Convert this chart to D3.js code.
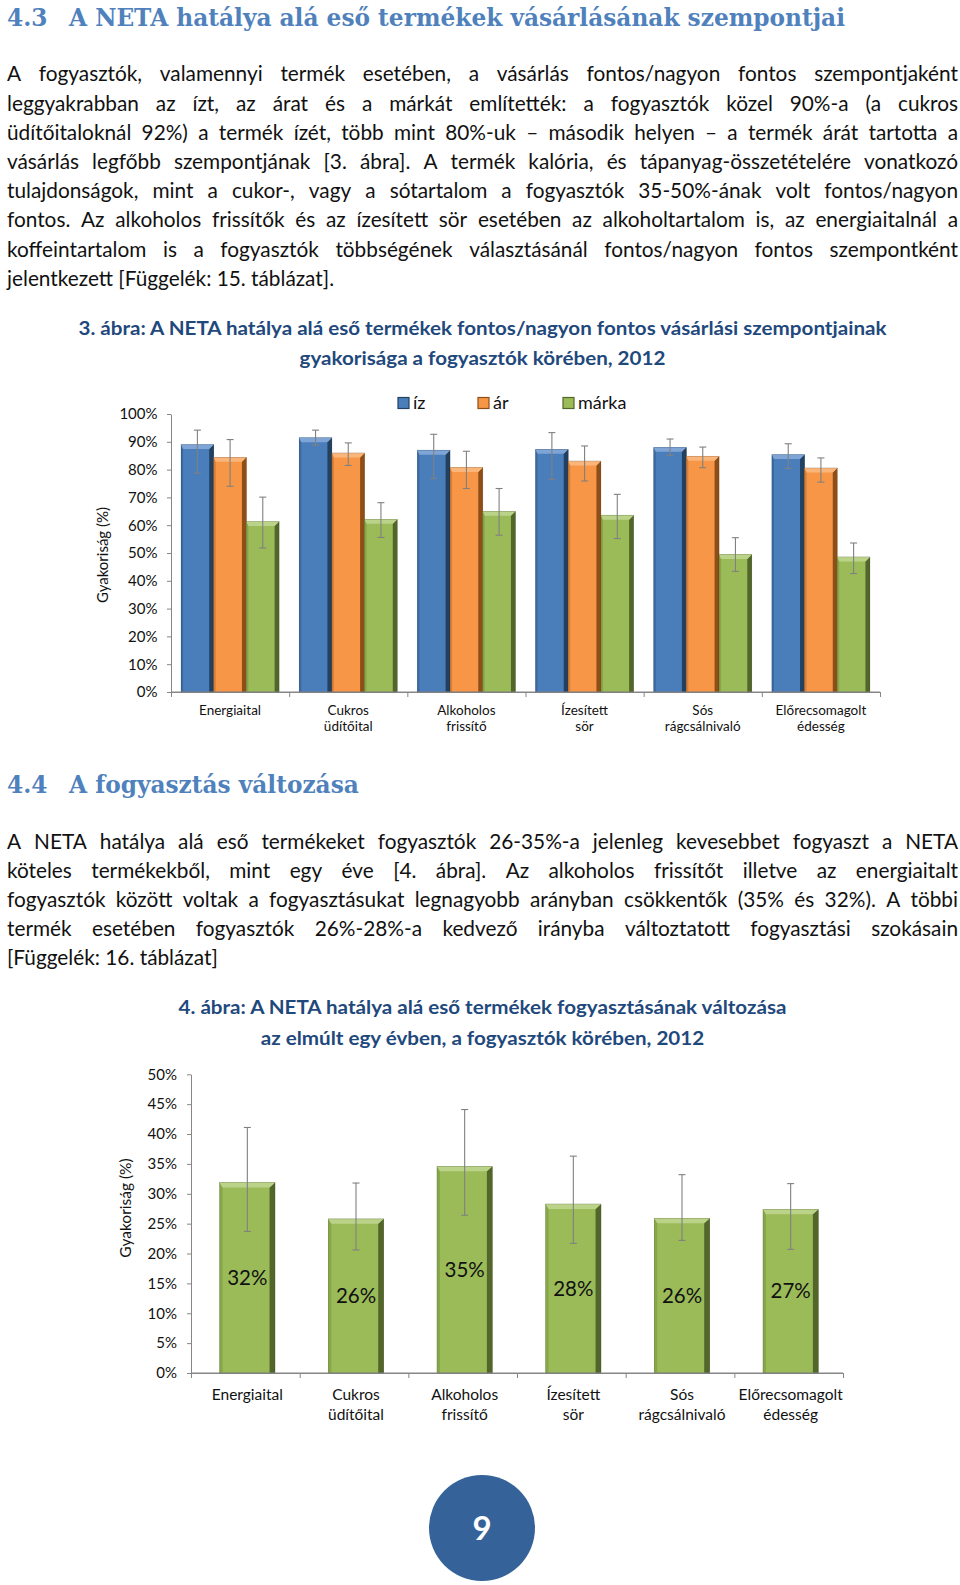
<!DOCTYPE html>
<html><head><meta charset="utf-8">
<script src="https://cdn.jsdelivr.net/npm/d3@7"></script>
<style>body{margin:0;background:#fff}svg{display:block}</style>
</head><body>
<svg id="page" width="960" height="1585"></svg>
<script>
// ---------------- DATA ----------------
const heading1 = ["4.3", "A NETA hatálya alá eső termékek vásárlásának szempontjai"];
const heading2 = ["4.4", "A fogyasztás változása"];
const para1 = [
  "A fogyasztók, valamennyi termék esetében, a vásárlás fontos/nagyon fontos szempontjaként",
  "leggyakrabban az ízt, az árat és a márkát említették: a fogyasztók közel 90%-a (a cukros",
  "üdítőitaloknál 92%) a termék ízét, több mint 80%-uk – második helyen – a termék árát tartotta a",
  "vásárlás legfőbb szempontjának [3. ábra]. A termék kalória, és tápanyag-összetételére vonatkozó",
  "tulajdonságok, mint a cukor-, vagy a sótartalom a fogyasztók 35-50%-ának volt fontos/nagyon",
  "fontos. Az alkoholos frissítők és az ízesített sör esetében az alkoholtartalom is, az energiaitalnál a",
  "koffeintartalom is a fogyasztók többségének választásánál fontos/nagyon fontos szempontként",
  "jelentkezett [Függelék: 15. táblázat]."
];
const para2 = [
  "A NETA hatálya alá eső termékeket fogyasztók 26-35%-a jelenleg kevesebbet fogyaszt a NETA",
  "köteles termékekből, mint egy éve [4. ábra]. Az alkoholos frissítőt illetve az energiaitalt",
  "fogyasztók között voltak a fogyasztásukat legnagyobb arányban csökkentők (35% és 32%). A többi",
  "termék esetében fogyasztók 26%-28%-a kedvező irányba változtatott fogyasztási szokásain",
  "[Függelék: 16. táblázat]"
];
const caption1 = ["3. ábra: A NETA hatálya alá eső termékek fontos/nagyon fontos vásárlási szempontjainak",
                  "gyakorisága a fogyasztók körében, 2012"];
const caption2 = ["4. ábra: A NETA hatálya alá eső termékek fogyasztásának változása",
                  "az elmúlt egy évben, a fogyasztók körében, 2012"];
const pageNumber = "9";
const yTitle = "Gyakoriság (%)";

const categories = [["Energiaital"], ["Cukros", "üdítőital"], ["Alkoholos", "frissítő"],
                    ["Ízesített", "sör"], ["Sós", "rágcsálnivaló"], ["Előrecsomagolt", "édesség"]];
const seriesNames = ["íz", "ár", "márka"];
// Chart 3: values (%)
const izValues    = [89.0, 91.5, 87.0, 87.3, 88.0, 85.4];
const arValues    = [84.4, 86.0, 80.8, 83.1, 84.8, 80.6];
const markaValues = [61.3, 62.1, 65.0, 63.6, 49.5, 48.6];
const izLow    = [78.7, 88.8, 76.8, 76.5, 85.1, 80.4];
const izHigh   = [94.2, 94.2, 92.7, 93.3, 91.0, 89.3];
const arLow    = [74.0, 81.5, 73.2, 75.9, 80.7, 75.5];
const arHigh   = [90.8, 89.6, 86.6, 88.5, 88.1, 84.2];
const markaLow  = [51.8, 55.6, 56.4, 55.2, 43.4, 42.6];
const markaHigh = [70.1, 68.1, 73.2, 71.1, 55.5, 53.6];
const yTicks1 = [0, 10, 20, 30, 40, 50, 60, 70, 80, 90, 100];
// Chart 4: values (%)
const changeValues = [31.9, 25.8, 34.6, 28.3, 25.9, 27.4];
const changeLow    = [23.7, 20.6, 26.4, 21.7, 22.2, 20.7];
const changeHigh   = [41.1, 31.8, 44.1, 36.3, 33.2, 31.7];
const yTicks2 = [0, 5, 10, 15, 20, 25, 30, 35, 40, 45, 50];

// ---------------- STYLE ----------------
const SANS = "Lato, 'Open Sans', sans-serif";
const SERIF = "'DejaVu Serif', 'Liberation Serif', serif";
const headColor = "#4F81BD";
const capColor = "#1F497D";
const palette = {
  "íz":    {main: "#4A7EBB", top: "#7FA5D6", left: "#3A689F", right: "#23405F"},
  "ár":    {main: "#F79646", top: "#F9B57A", left: "#D97F35", right: "#8E4E17"},
  "márka": {main: "#9BBB59", top: "#BBD389", left: "#87A64A", right: "#52662B"}
};
const svg = d3.select("#page");

// ---------------- TEXT HELPERS ----------------
function measure(txt, font, size, weight) {
  const t = svg.append("text").attr("font-family", font).attr("font-size", size)
    .attr("font-weight", weight || "normal").text(txt);
  const w = t.node().getComputedTextLength();
  t.remove();
  return w;
}
function drawLine(text, y, x0, x1, justify, size) {
  const words = text.split(" ");
  const widths = words.map(w => measure(w, SANS, size));
  const spaceW = measure("a a", SANS, size) - measure("aa", SANS, size);
  const sum = d3.sum(widths);
  const n = words.length;
  let gap = justify ? (x1 - x0 - sum) / (n - 1) : spaceW;
  let scale = 1;
  const minGap = spaceW * 0.75;
  if (justify && gap < minGap) { gap = minGap; scale = (x1 - x0 - minGap * (n - 1)) / sum; }
  let x = x0;
  words.forEach((w, i) => {
    const t = svg.append("text").attr("x", x).attr("y", y)
      .attr("font-family", SANS).attr("font-size", size).attr("fill", "#111").text(w);
    if (scale !== 1) t.attr("textLength", widths[i] * scale).attr("lengthAdjust", "spacingAndGlyphs");
    x += widths[i] * scale + gap;
  });
}
function paragraph(lines, yStart, step) {
  lines.forEach((l, i) => drawLine(l, yStart + i * step, 7, 958, i < lines.length - 1, 20.8));
}

// headings
const hSize = 25;
const hRatio = 776 / measure(heading1[1], SERIF, hSize, "bold");
function heading(h, y) {
  svg.append("text").attr("x", 7).attr("y", y).attr("font-family", SERIF).attr("font-weight", "bold")
    .attr("font-size", hSize).attr("fill", headColor)
    .attr("textLength", measure(h[0], SERIF, hSize, "bold") * hRatio).attr("lengthAdjust", "spacingAndGlyphs")
    .text(h[0]);
  svg.append("text").attr("x", 69).attr("y", y).attr("font-family", SERIF).attr("font-weight", "bold")
    .attr("font-size", hSize).attr("fill", headColor)
    .attr("textLength", measure(h[1], SERIF, hSize, "bold") * hRatio).attr("lengthAdjust", "spacingAndGlyphs")
    .text(h[1]);
}
heading(heading1, 26);
heading(heading2, 793);
paragraph(para1, 81.3, 29.2);
paragraph(para2, 848.5, 29.2);

// captions
const cSize = 18.5;
const cRatio = 808 / measure(caption1[0], SANS, cSize, "bold");
function caption(lines, ys) {
  lines.forEach((l, i) => {
    svg.append("text").attr("x", 482.5).attr("y", ys[i]).attr("text-anchor", "middle")
      .attr("font-family", SANS).attr("font-weight", "bold").attr("font-size", cSize).attr("fill", capColor)
      .attr("textLength", measure(l, SANS, cSize, "bold") * cRatio).attr("lengthAdjust", "spacingAndGlyphs")
      .text(l);
  });
}
caption(caption1, [334.5, 365]);
caption(caption2, [1014, 1045]);

// ---------------- BAR HELPER ----------------
function bevelBar(g, x, y, w, h, c, bt, bl, br) {
  g.append("rect").attr("x", x).attr("y", y).attr("width", w).attr("height", h).attr("fill", c.main);
  const pts = a => a.map(p => p.join(",")).join(" ");
  g.append("polygon").attr("fill", c.left)
    .attr("points", pts([[x, y], [x + bl, y + bt], [x + bl, y + h], [x, y + h]]));
  g.append("polygon").attr("fill", c.right)
    .attr("points", pts([[x + w, y], [x + w, y + h], [x + w - br, y + h], [x + w - br, y + bt]]));
  g.append("polygon").attr("fill", c.top)
    .attr("points", pts([[x, y], [x + w, y], [x + w - br, y + bt], [x + bl, y + bt]]));
  g.append("rect").attr("x", x).attr("y", y).attr("width", w).attr("height", h)
    .attr("fill", "none").attr("stroke", "rgba(0,0,0,0.25)").attr("stroke-width", 0.6);
}
function errorBar(g, cx, y0, y1, cap) {
  g.append("line").attr("x1", cx).attr("x2", cx).attr("y1", y0).attr("y2", y1);
  g.append("line").attr("x1", cx - cap).attr("x2", cx + cap).attr("y1", y0).attr("y2", y0);
  g.append("line").attr("x1", cx - cap).attr("x2", cx + cap).attr("y1", y1).attr("y2", y1);
}
function styleAxis(a) {
  a.selectAll("path,line").attr("stroke", "#868686").attr("stroke-width", 1);
  a.selectAll("text").attr("font-family", SANS).attr("fill", "#111");
}

// ---------------- CHART 3 ----------------
{
  const g = svg.append("g");
  const left = 171, right = 880, bottom = 692, top = 414;
  const x = d3.scaleBand().domain(d3.range(categories.length)).range([left, right])
    .paddingInner(0.17).paddingOuter(0.085);
  const xs = d3.scaleBand().domain(seriesNames).range([0, x.bandwidth()]);
  const y = d3.scaleLinear().domain([0, 100]).range([bottom, top]);
  const xb = d3.scaleLinear().domain([0, categories.length]).range([left, right]);

  const ya = g.append("g").attr("transform", `translate(${left},0)`)
    .call(d3.axisLeft(y).tickValues(yTicks1).tickFormat(d => d + "%").tickSize(4).tickSizeOuter(0).tickPadding(9.5));
  styleAxis(ya); ya.selectAll("text").attr("font-size", 15);
  const xa = g.append("g").attr("transform", `translate(0,${bottom})`)
    .call(d3.axisBottom(xb).tickValues(d3.range(categories.length + 1)).tickFormat("").tickSize(5).tickSizeOuter(0));
  styleAxis(xa);

  const vals = {"íz": izValues, "ár": arValues, "márka": markaValues};
  const lows = {"íz": izLow, "ár": arLow, "márka": markaLow};
  const highs = {"íz": izHigh, "ár": arHigh, "márka": markaHigh};
  const barsG = g.append("g");
  const errG = g.append("g").attr("stroke", "#808080").attr("stroke-width", 1.1);
  categories.forEach((c, i) => {
    seriesNames.forEach(s => {
      const bx = x(i) + xs(s), bw = xs.bandwidth();
      const by = y(vals[s][i]);
      bevelBar(barsG, bx, by, bw, bottom - by, palette[s], 4.5, 2, 4.5);
      errorBar(errG, bx + bw / 2, y(highs[s][i]), y(lows[s][i]), 3.5);
    });
    const t = g.append("text").attr("text-anchor", "middle").attr("font-family", SANS)
      .attr("font-size", 13.5).attr("fill", "#111");
    c.forEach((line, k) => t.append("tspan").attr("x", x(i) + x.bandwidth() / 2).attr("y", 714.5 + k * 16.7).text(line));
  });
  g.append("line").attr("x1", left).attr("x2", right).attr("y1", bottom).attr("y2", bottom).attr("stroke", "#868686");

  g.append("text").attr("transform", "translate(108,555) rotate(-90)").attr("text-anchor", "middle")
    .attr("font-family", SANS).attr("font-size", 15).attr("fill", "#111").text(yTitle);

  // legend
  const legX = [398, 478, 563];
  seriesNames.forEach((s, i) => {
    const c = palette[s];
    g.append("rect").attr("x", legX[i]).attr("y", 397.5).attr("width", 11).attr("height", 11)
      .attr("fill", c.main).attr("stroke", c.right).attr("stroke-width", 1.2);
    g.append("text").attr("x", legX[i] + 15).attr("y", 409).attr("font-family", SANS)
      .attr("font-size", 18).attr("fill", "#111").text(s);
  });
}

// ---------------- CHART 4 ----------------
{
  const g = svg.append("g");
  const left = 191, right = 843, bottom = 1373, top = 1074.3;
  const x = d3.scaleBand().domain(d3.range(categories.length)).range([left, right])
    .paddingInner(0.49).paddingOuter(0.245);
  const y = d3.scaleLinear().domain([0, 50]).range([bottom, top]);
  const xb = d3.scaleLinear().domain([0, categories.length]).range([left, right]);

  const ya = g.append("g").attr("transform", `translate(${left},0)`)
    .call(d3.axisLeft(y).tickValues(yTicks2).tickFormat(d => d + "%").tickSize(4).tickSizeOuter(0).tickPadding(10));
  styleAxis(ya); ya.selectAll("text").attr("font-size", 15);
  const xa = g.append("g").attr("transform", `translate(0,${bottom})`)
    .call(d3.axisBottom(xb).tickValues(d3.range(categories.length + 1)).tickFormat("").tickSize(5).tickSizeOuter(0));
  styleAxis(xa);

  const barsG = g.append("g");
  const errG = g.append("g").attr("stroke", "#808080").attr("stroke-width", 1.1);
  const labG = g.append("g");
  categories.forEach((c, i) => {
    const bx = x(i) + 2, bw = x.bandwidth();
    const by = y(changeValues[i]);
    bevelBar(barsG, bx, by, bw, bottom - by, palette["márka"], 5, 3, 5.5);
    errorBar(errG, bx + bw / 2, y(changeHigh[i]), y(changeLow[i]), 3.5);
    labG.append("text").attr("x", bx + bw / 2).attr("y", (by + bottom) / 2).attr("dy", "0.35em")
      .attr("text-anchor", "middle").attr("font-family", SANS).attr("font-size", 20.5).attr("fill", "#111")
      .text(Math.round(changeValues[i]) + "%");
    const t = g.append("text").attr("text-anchor", "middle").attr("font-family", SANS)
      .attr("font-size", 15.5).attr("fill", "#111");
    c.forEach((line, k) => t.append("tspan").attr("x", x(i) + x.bandwidth() / 2 + 2).attr("y", 1399.5 + k * 20).text(line));
  });
  g.append("line").attr("x1", left).attr("x2", right).attr("y1", bottom).attr("y2", bottom).attr("stroke", "#868686");

  g.append("text").attr("transform", "translate(131,1208) rotate(-90)").attr("text-anchor", "middle")
    .attr("font-family", SANS).attr("font-size", 15.5).attr("fill", "#111").text(yTitle);
}

// ---------------- PAGE NUMBER ----------------
svg.append("circle").attr("cx", 482).attr("cy", 1528).attr("r", 53).attr("fill", "#356399");
svg.append("text").attr("x", 482).attr("y", 1540).attr("text-anchor", "middle").attr("font-family", SANS)
  .attr("font-weight", "bold").attr("font-size", 33).attr("fill", "#fff").text(pageNumber);
</script>
</body></html>
